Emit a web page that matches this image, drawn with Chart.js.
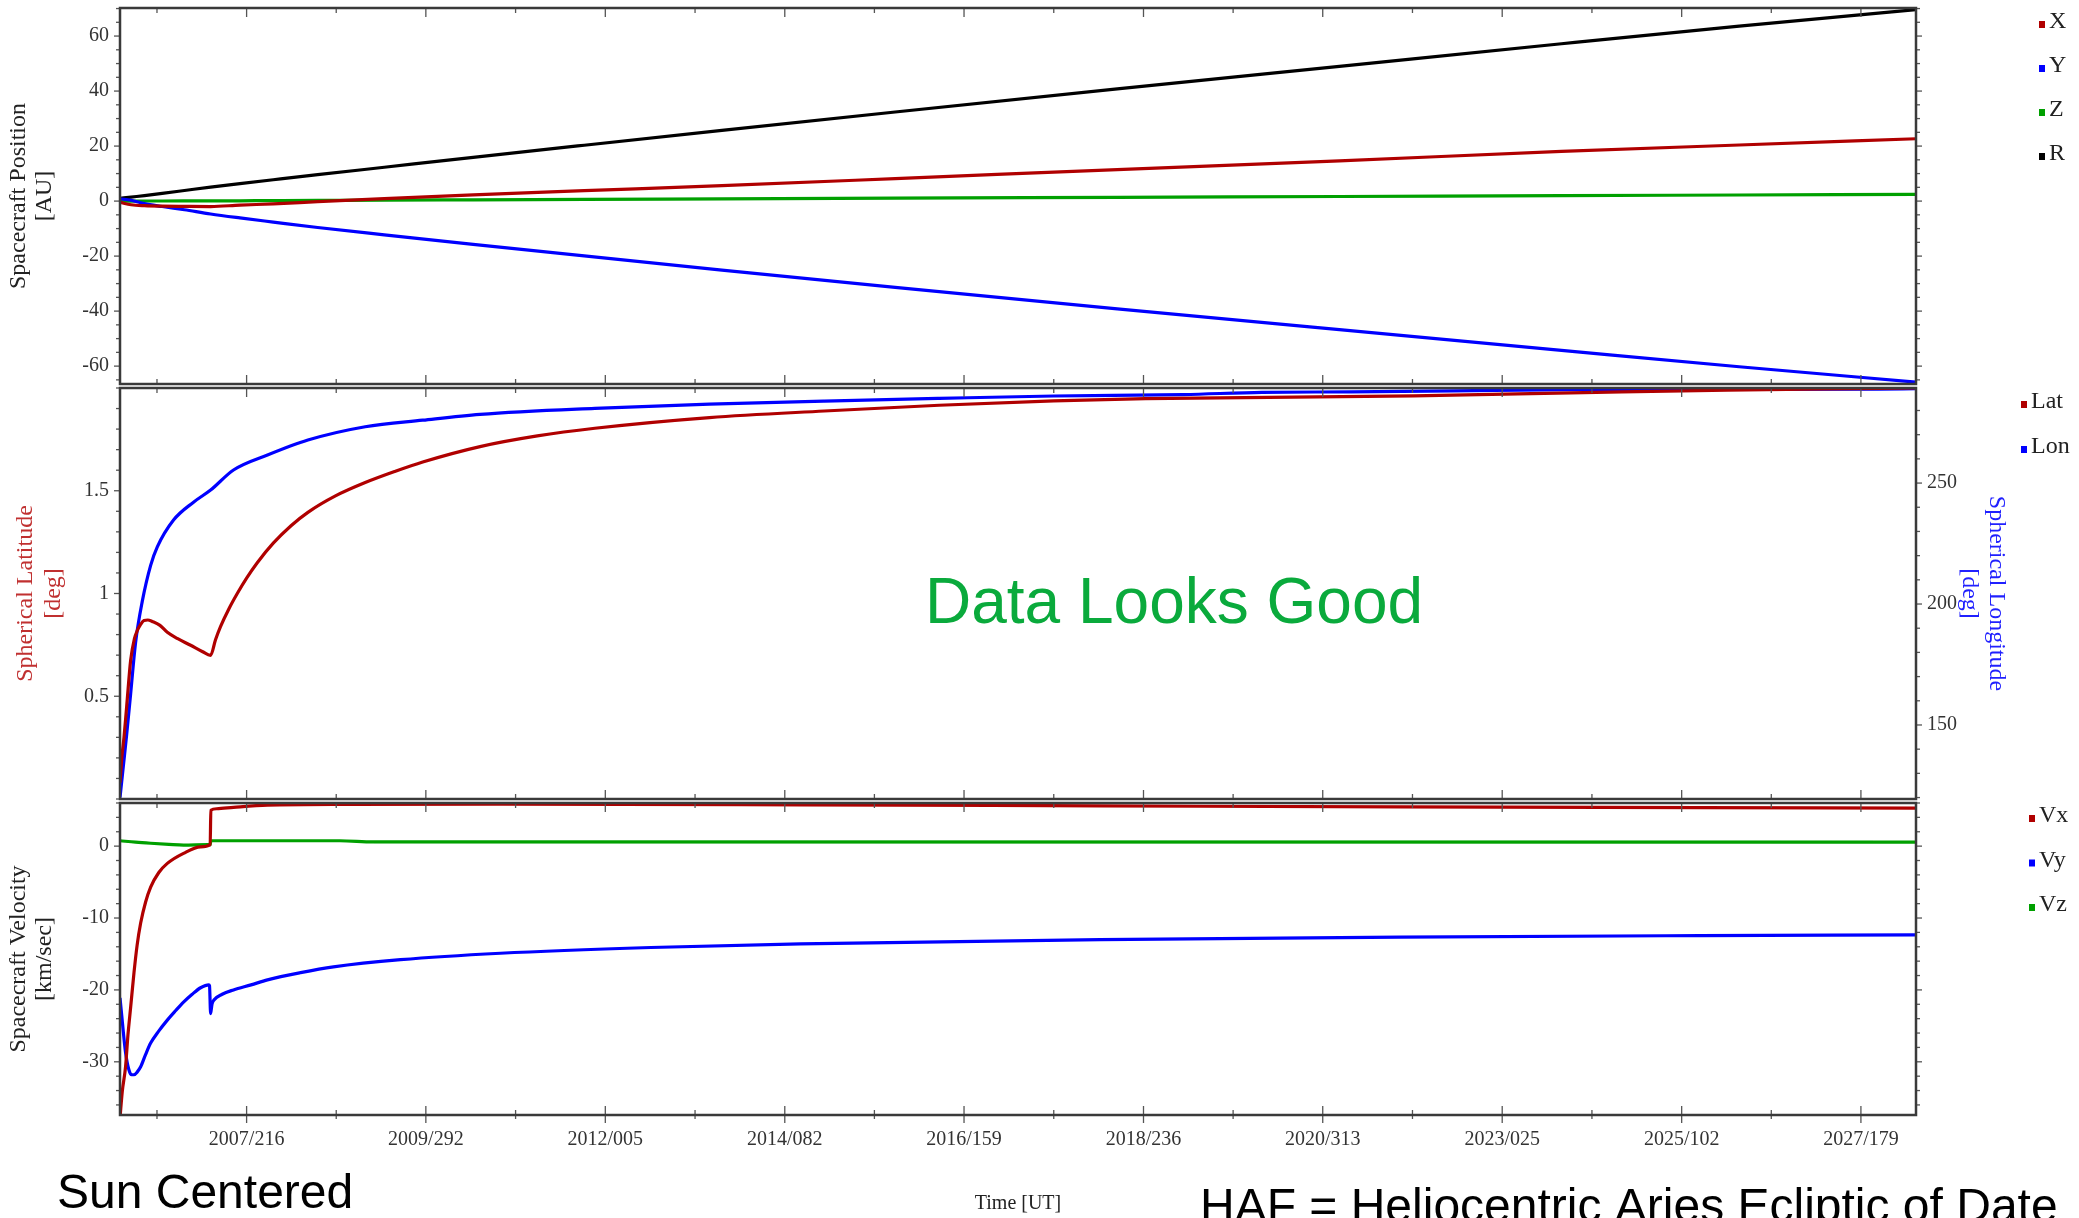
<!DOCTYPE html>
<html>
<head>
<meta charset="utf-8">
<title>Spacecraft trajectory - HAE</title>
<script src="https://cdn.jsdelivr.net/npm/chart.js@4.4.1/dist/chart.umd.min.js"></script>
<style>
  html, body { margin: 0; padding: 0; background: #fff; }
  #wrap { position: relative; width: 2079px; height: 1218px; overflow: hidden; }
  #wrap canvas { position: absolute; left: 0; top: 0; }
</style>
</head>
<body>
<div id="wrap">
  <canvas id="posChart" width="2079" height="1218"></canvas>
  <canvas id="sphChart" width="2079" height="1218"></canvas>
  <canvas id="velChart" width="2079" height="1218"></canvas>
</div>
<script>
// time is a day index counted from 2006/001
const timeTickLabels = ["2007/216", "2009/292", "2012/005", "2014/082", "2016/159",
                        "2018/236", "2020/313", "2023/025", "2025/102", "2027/179"];
const timeRange = [10, 8096];

// --- spacecraft position [AU]
const posDays = [10, 60, 120, 200, 300, 418, 550, 700, 900, 1200, 1600, 2100, 2720, 3500, 4500, 5500, 6500, 7300, 8096];
const posX = [-0.49, -1.32, -1.66, -1.84, -1.92, -1.98, -1.46, -1.03, -0.22, 0.90, 2.24, 3.77, 5.65, 8.17, 11.45, 14.65, 18.05, 20.39, 22.66];
const posY = [0.85, 0.29, -0.92, -1.97, -3.16, -4.70, -6.13, -7.63, -9.60, -12.27, -15.74, -19.95, -25.07, -31.35, -39.16, -46.76, -54.28, -60.24, -65.81];
const posZ = [0.00, 0.02, 0.03, 0.04, 0.05, 0.06, 0.11, 0.16, 0.23, 0.34, 0.47, 0.64, 0.83, 1.08, 1.38, 1.67, 1.97, 2.21, 2.43];
const posR = [0.98, 1.45, 2.00, 2.80, 3.85, 5.10, 6.35, 7.75, 9.60, 12.30, 15.90, 20.30, 25.70, 32.40, 40.80, 49.00, 57.20, 63.60, 69.60];
const posTicks = [-60, -40, -20, 0, 20, 40, 60];

// --- spherical latitude / longitude [deg]
const latDays = [10, 18, 28, 40, 58, 75, 88, 103, 118, 135, 155, 190, 223, 270, 328, 380, 418, 440, 463, 500,
                 538, 580, 628, 700, 780, 856, 980, 1114, 1250, 1373, 1631, 1889, 2148, 2664, 3181, 3698, 4214, 4627,
                 5835, 6541, 7247, 7928, 8096];
const latVals = [0.08, 0.2, 0.3, 0.45, 0.675, 0.78, 0.82, 0.85, 0.869, 0.871, 0.864, 0.845, 0.811, 0.78, 0.748, 0.718, 0.699, 0.775, 0.84, 0.925,
                 1.0, 1.075, 1.15, 1.245, 1.33, 1.395, 1.475, 1.54, 1.595, 1.64, 1.715, 1.767, 1.804, 1.856, 1.888, 1.916, 1.937, 1.948,
                 1.962, 1.976, 1.990, 1.998, 2.0];
const lonDays = [10, 25, 40, 58, 80, 110, 148, 178, 251, 341, 418, 521, 674, 856, 1114, 1373, 1631, 2148, 2664, 3181,
                 3698, 4214, 4799, 5152, 5553, 6012, 6541, 7928, 8096];
const lonVals = [120, 133, 146, 163, 184, 201, 216, 223.6, 234.7, 242.1, 247.1, 255.4, 261.6, 267.8, 273.3, 276, 278.4, 280.9, 282.6, 283.9,
                 285, 286, 286.6, 287.5, 287.7, 288.1, 288.6, 288.8, 289];
const latTicks = [0.5, 1, 1.5];
const lonTicks = [150, 200, 250];

// --- spacecraft velocity [km/sec]
const vxDays = [10, 20, 35, 46, 58, 73, 87, 103, 125, 148, 184, 223, 296, 373, 416, 419, 445, 521, 674, 1048, 1723, 3073, 4423, 5773, 7123, 8096];
const vxVals = [-37.8, -34.2, -30.7, -26.2, -22.4, -17.6, -13.8, -10.7, -7.8, -5.7, -3.7, -2.4, -1.0, -0.1, 0.2, 5.0, 5.2, 5.4, 5.7, 5.8, 5.85, 5.75, 5.6, 5.45, 5.35, 5.3];
const vyDays = [10, 16, 21, 35, 50, 62, 73, 88, 103, 125, 148, 185, 223, 260, 296, 335, 373, 410, 413, 418,
                424, 433, 470, 521, 600, 674, 823, 971, 1273, 1723, 2400, 3073, 4423, 5773, 7123, 8096];
const vyVals = [-21.1, -23.0, -24.6, -28.7, -31.1, -31.8, -31.8, -31.4, -30.7, -29.0, -27.4, -25.7, -24.2, -22.9, -21.7, -20.6, -19.7, -19.3, -19.4, -23.3,
                -22.0, -21.4, -20.6, -20.0, -19.3, -18.6, -17.6, -16.8, -15.8, -14.9, -14.1, -13.6, -13.0, -12.65, -12.45, -12.35];
const vzDays = [10, 80, 148, 230, 296, 405, 416, 419, 1000, 1150, 8096];
const vzVals = [0.75, 0.55, 0.4, 0.25, 0.15, 0.2, 0.2, 0.75, 0.75, 0.6, 0.55];
const velTicks = [-30, -20, -10, 0];

const RED = "#b00000", BLUE = "#0000ff", GREEN = "#00a000", BLACK = "#000000";
const SERIF = "'Liberation Serif', 'Times New Roman', serif";
const SANS = "'Liberation Sans', Arial, sans-serif";

Chart.defaults.font.family = SERIF;
Chart.defaults.color = "#333";

// ===============================
// day index <-> "YYYY/DDD"
// ===============================
const isLeap = y => (y % 4 === 0 && y % 100 !== 0) || y % 400 === 0;
const yearLen = y => isLeap(y) ? 366 : 365;
function labelToDay(s) {
  const [y, doy] = s.split("/").map(Number);
  let d = 0;
  for (let yr = 2006; yr < y; yr++) d += yearLen(yr);
  return d + doy - 1;
}
function dayToLabel(d) {
  d = Math.round(d);
  let y = 2006;
  while (d >= yearLen(y)) { d -= yearLen(y); y++; }
  return y + "/" + String(d + 1).padStart(3, "0");
}
const timeTicks = timeTickLabels.map(labelToDay);

const pts = (days, vals) => days.map((d, i) => ({ x: d, y: vals[i] }));
const line = (label, days, vals, color, axis) => ({
  label, data: pts(days, vals), borderColor: color, backgroundColor: color,
  borderWidth: 3.2, pointRadius: 0, cubicInterpolationMode: "monotone", fill: false, yAxisID: axis || "y"
});

// ===============================
// PLUGINS: frame + ticks, side legend, free text
// ===============================
const framePlugin = {
  id: "frame",
  afterDraw(chart, args, o) {
    const { ctx, chartArea: a, scales } = chart;
    const seg = (x1, y1, x2, y2) => { ctx.beginPath(); ctx.moveTo(x1, y1); ctx.lineTo(x2, y2); ctx.stroke(); };
    ctx.save();
    ctx.strokeStyle = "#555";
    ctx.lineWidth = 1.3;

    // time ticks point into the panel (top and bottom)
    const xs = scales.x;
    const maj = xs.ticks.map(t => t.value);
    const marks = maj.map(v => [v, 9]);
    for (let i = -1; i < maj.length; i++) {
      const v = i < 0 ? maj[0] - (maj[1] - maj[0]) / 2
        : i === maj.length - 1 ? maj[i] + (maj[i] - maj[i - 1]) / 2
        : (maj[i] + maj[i + 1]) / 2;
      if (v > xs.min && v < xs.max) marks.push([v, 5]);
    }
    marks.forEach(([v, len]) => {
      const px = xs.getPixelForValue(v);
      seg(px, a.top, px, a.top + len);
      if (o.crossBottom) seg(px, a.bottom - len, px, a.bottom + len - 1);
      else seg(px, a.bottom - len, px, a.bottom);
    });

    // value ticks point outwards on both sides
    const side = (scale, step, x, dir) => {
      const major = scale.ticks.map(t => t.value);
      const first = Math.ceil(scale.min / step - 1e-6);
      for (let k = first; k * step <= scale.max + 1e-9; k++) {
        const v = k * step;
        const isMaj = major.some(m => Math.abs(m - v) < step / 10);
        const py = scale.getPixelForValue(v);
        seg(x, py, x + dir * (isMaj ? 6 : 4), py);
      }
    };
    side(scales[o.left], o.leftStep, a.left, -1);
    side(scales[o.right], o.rightStep, a.right, 1);

    ctx.strokeStyle = "#3a3a3a";
    ctx.lineWidth = 2.5;
    ctx.strokeRect(a.left, a.top, a.right - a.left, a.bottom - a.top);
    ctx.restore();
  }
};

const sideLegend = {
  id: "sideLegend",
  afterDraw(chart, args, o) {
    const ctx = chart.ctx;
    ctx.save();
    ctx.font = "24px " + SERIF;
    ctx.textBaseline = "alphabetic";
    chart.data.datasets.forEach((ds, i) => {
      const y = o.top + i * o.gap;
      ctx.fillStyle = ds.borderColor;
      ctx.fillRect(o.x, y - 7, 6, 7);
      ctx.fillStyle = "#222";
      ctx.fillText(ds.label, o.x + 10, y);
    });
    ctx.restore();
  }
};

const notes = {
  id: "notes",
  afterDraw(chart, args, o) {
    const ctx = chart.ctx;
    ctx.save();
    ctx.textBaseline = "alphabetic";
    (o.items || []).forEach(n => {
      ctx.font = n.font;
      ctx.fillStyle = n.color;
      ctx.fillText(n.text, n.x, n.y);
    });
    ctx.restore();
  }
};

// ===============================
// SHARED AXES
// ===============================
function timeScale(showLabels) {
  return {
    type: "linear", bounds: "data", min: timeRange[0], max: timeRange[1],
    grid: { display: false, drawTicks: false }, border: { display: false },
    afterBuildTicks: s => { s.ticks = timeTicks.map(v => ({ value: v })); },
    ticks: {
      display: showLabels, autoSkip: false, maxRotation: 0, padding: 13,
      color: "#333", font: { size: 20 }, callback: v => dayToLabel(v)
    },
    title: {
      display: showLabels, text: "Time [UT]", color: "#222",
      font: { size: 20, lineHeight: 1.2 }, padding: { top: 0, bottom: 2 }
    },
    afterFit: s => {
      s.height = showLabels ? 103 : 0;
      s.paddingLeft = s.paddingRight = s.paddingTop = s.paddingBottom = 0;
    }
  };
}

function valueScale(opts) {
  return {
    type: "linear", bounds: "data", position: opts.position || "left",
    min: opts.min, max: opts.max,
    grid: { display: false, drawTicks: false }, border: { display: false },
    afterBuildTicks: s => { s.ticks = opts.ticks.map(v => ({ value: v })); },
    ticks: { padding: 11, color: "#333", font: { size: 20 }, callback: v => String(v) },
    title: {
      display: true, text: opts.title, color: opts.titleColor || "#222",
      font: { size: 24, lineHeight: opts.lh || 1.1 }, padding: { top: opts.titlePad, bottom: 0 }
    },
    afterFit: s => {
      s.width = opts.width;
      s.paddingLeft = s.paddingRight = s.paddingTop = s.paddingBottom = 0;
    }
  };
}

const baseOptions = {
  responsive: false, animation: false, events: [],
  plugins: { legend: { display: false }, tooltip: { enabled: false } }
};

// ===============================
// PANEL 1 : POSITION
// ===============================
new Chart(document.getElementById("posChart"), {
  type: "line",
  data: {
    datasets: [
      line("X", posDays, posX, RED),
      line("Y", posDays, posY, BLUE),
      line("Z", posDays, posZ, GREEN),
      line("R", posDays, posR, BLACK)
    ]
  },
  options: {
    ...baseOptions,
    layout: { padding: { top: 8, bottom: 834, left: 0, right: 163 } },
    scales: {
      x: timeScale(false),
      y: valueScale({ min: -66.5, max: 70.2, ticks: posTicks, width: 120, titlePad: 5.3,
                      title: ["Spacecraft Position", "[AU]"] })
    },
    plugins: {
      ...baseOptions.plugins,
      frame: { left: "y", right: "y", leftStep: 5, rightStep: 5 },
      sideLegend: { x: 2039, top: 28, gap: 44 }
    }
  },
  plugins: [framePlugin, sideLegend]
});

// ===============================
// PANEL 2 : SPHERICAL LAT / LON
// ===============================
new Chart(document.getElementById("sphChart"), {
  type: "line",
  data: {
    datasets: [
      line("Lat", latDays, latVals, RED, "y"),
      line("Lon", lonDays, lonVals, BLUE, "y2")
    ]
  },
  options: {
    ...baseOptions,
    layout: { padding: { top: 388, bottom: 419, left: 0, right: 0 } },
    scales: {
      x: timeScale(false),
      y: valueScale({ min: 0, max: 2.0, ticks: latTicks, width: 120, titlePad: 12, lh: 1.1667,
                      title: ["Spherical Latitude", "[deg]"], titleColor: "#c03030" }),
      y2: valueScale({ position: "right", min: 119.4, max: 289.3, ticks: lonTicks, width: 163, titlePad: 69.8,
                       title: ["Spherical Longitude", "[deg]"], titleColor: "#2020ff" })
    },
    plugins: {
      ...baseOptions.plugins,
      frame: { left: "y", right: "y2", leftStep: 0.1, rightStep: 10 },
      sideLegend: { x: 2021, top: 408, gap: 45 },
      notes: { items: [
        { text: "Data Looks Good", x: 925, y: 623, font: "64px " + SANS, color: "#0aaa3c" }
      ] }
    }
  },
  plugins: [framePlugin, sideLegend, notes]
});

// ===============================
// PANEL 3 : VELOCITY
// ===============================
new Chart(document.getElementById("velChart"), {
  type: "line",
  data: {
    datasets: [
      line("Vx", vxDays, vxVals, RED),
      line("Vy", vyDays, vyVals, BLUE),
      line("Vz", vzDays, vzVals, GREEN)
    ]
  },
  options: {
    ...baseOptions,
    layout: { padding: { top: 803, bottom: 0, left: 0, right: 163 } },
    scales: {
      x: timeScale(true),
      y: valueScale({ min: -37.4, max: 6.0, ticks: velTicks, width: 120, titlePad: 5.3,
                      title: ["Spacecraft Velocity", "[km/sec]"] })
    },
    plugins: {
      ...baseOptions.plugins,
      frame: { left: "y", right: "y", leftStep: 2, rightStep: 2, crossBottom: true },
      sideLegend: { x: 2029, top: 822, gap: 44.5 },
      notes: { items: [
        { text: "Sun Centered", x: 57, y: 1208, font: "48px " + SANS, color: "#000" },
        { text: "HAF = Heliocentric Aries Ecliptic of Date", x: 1200, y: 1222, font: "48px " + SANS, color: "#000" }
      ] }
    }
  },
  plugins: [framePlugin, sideLegend, notes]
});
</script>
</body>
</html>
